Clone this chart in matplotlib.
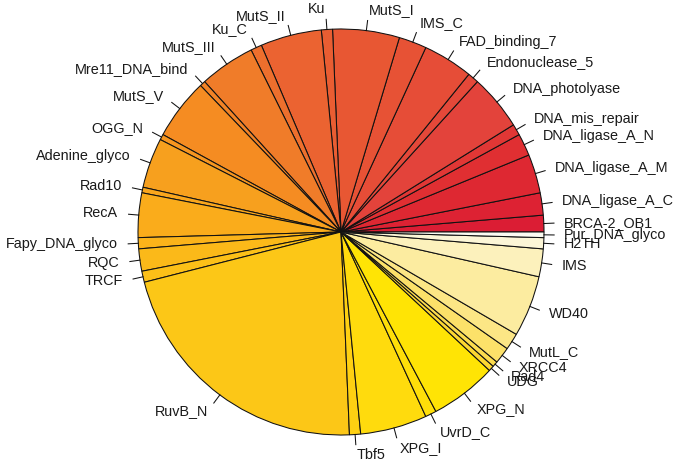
import colorsys
import numpy as np
import matplotlib
matplotlib.use("Agg")
import matplotlib.pyplot as plt

# domain counts, counterclockwise from 3 o'clock
domains = ["BRCA-2_OB1", "DNA_ligase_A_C", "DNA_ligase_A_M", "DNA_ligase_A_N",
           "DNA_mis_repair", "DNA_photolyase", "Endonuclease_5", "FAD_binding_7",
           "IMS_C", "MutS_I", "Ku", "MutS_II", "Ku_C", "MutS_III",
           "Mre11_DNA_bind", "MutS_V", "OGG_N", "Adenine_glyco", "Rad10", "RecA",
           "Fapy_DNA_glyco", "RQC", "TRCF", "RuvB_N", "Tbf5", "XPG_I", "UvrD_C",
           "XPG_N", "UDG", "Rad4", "XRCC4", "MutL_C", "WD40", "IMS", "H2TH",
           "Pur_DNA_glyco"]
counts = [3, 4, 7, 4, 2, 10, 2, 9, 5, 12, 2, 11, 2, 10, 1, 11, 1, 9, 1, 8,
          2, 4, 2, 49, 2, 12, 2, 12, 1, 1, 3, 3, 11, 5, 2, 1]


def heat_like(n):
    # heat.colors-like ramp, tuned to how it looks in the reference
    j = 8
    i = n - j
    knots = [0, 5, 9, 11, 13, 15, 17, 19, 23, 25, 27]
    hues = [-7.5, 3, 12, 16, 25, 30, 36, 39, 46, 51, 53.5]
    sats = [0.87, 0.74, 0.78, 0.79, 0.83, 0.86, 0.88, 0.89, 0.91, 0.95, 0.98]
    vals = [0.86, 0.89, 0.91, 0.92, 0.94, 0.96, 0.97, 0.98, 0.99, 1.0, 1.0]
    cols = []
    for k in range(i):
        t = k * 27 / (i - 1)
        h = np.interp(t, knots, hues)
        s = np.interp(t, knots, sats)
        v = np.interp(t, knots, vals)
        cols.append(colorsys.hsv_to_rgb((h / 360.0) % 1.0, s, v))
    for s in np.linspace(0.8, 0.04, j):
        cols.append(colorsys.hsv_to_rgb(49 / 360.0, s, 0.99))
    return cols[:n]


fig = plt.figure(figsize=(6.83, 4.67), dpi=100)
ax = fig.add_axes([0, 0, 1, 1])

cx, cy, r = 341, 235, 203
colors = heat_like(len(counts))
ax.pie(counts, colors=colors, startangle=0, counterclock=True,
       center=(cx, cy), radius=r,
       wedgeprops=dict(edgecolor="#111111", linewidth=0.75))

vals = np.array(counts, dtype=float)
cum = np.cumsum(vals)
mids = 2 * np.pi * (cum - vals / 2) / vals.sum()
for name, a in zip(domains, mids):
    ca, sa = np.cos(a), np.sin(a)
    ax.plot([cx + r * ca, cx + 1.05 * r * ca], [cy + r * sa, cy + 1.05 * r * sa],
            color="#111111", lw=0.75)
    ax.text(cx + 1.1 * r * ca, cy + 1.1 * r * sa, name,
            ha="left" if ca >= 0 else "right", va="center",
            fontsize=10.4, family="Liberation Sans", color="#1a1a1a")

ax.set_xlim(0, 683)
ax.set_ylim(0, 467)
ax.set_aspect("equal")
ax.axis("off")

fig.savefig("out.png", dpi=100, facecolor="white")
